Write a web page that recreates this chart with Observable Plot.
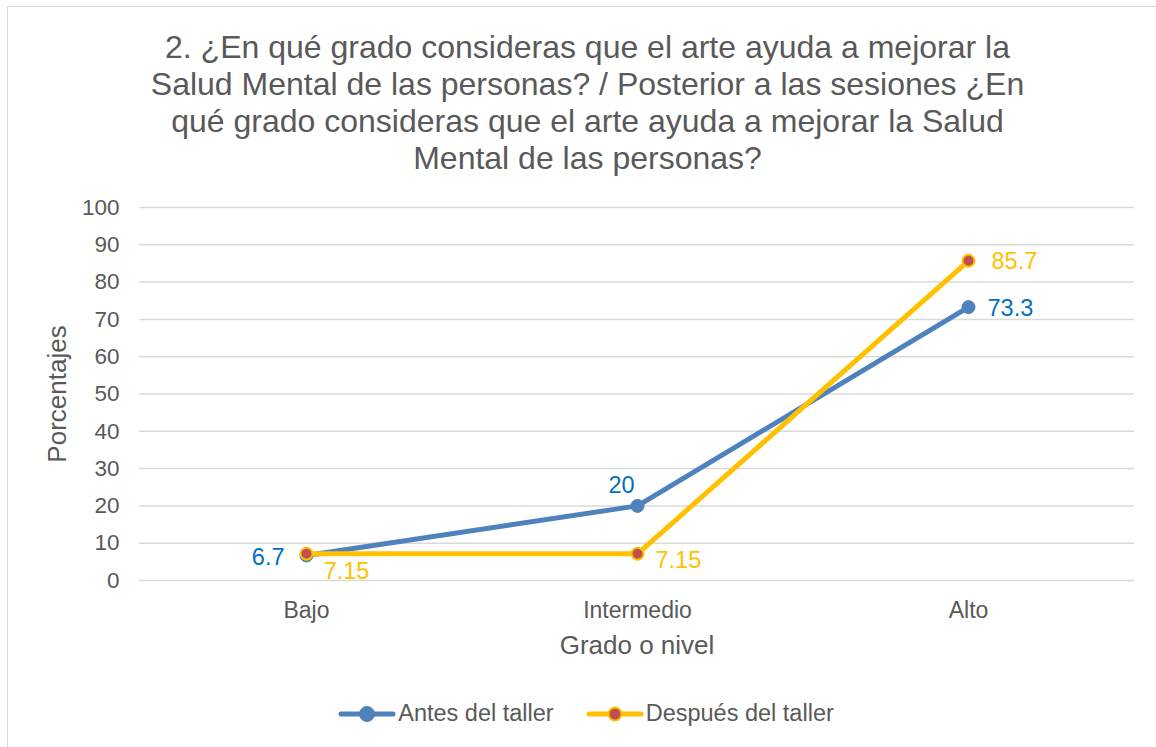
<!DOCTYPE html>
<html>
<head>
<meta charset="utf-8">
<script src="https://cdn.jsdelivr.net/npm/d3@7"></script>
<script src="https://cdn.jsdelivr.net/npm/@observablehq/plot@0.6"></script>
<style>
  html, body { margin: 0; padding: 0; background: #fff; }
  body { width: 1156px; height: 747px; overflow: hidden; position: relative; font-family: "Liberation Sans", Arial, sans-serif; }
  #frame { position: absolute; left: 7px; top: 6px; width: 1160px; height: 760px; border: 1px solid #d9d9d9; box-sizing: border-box; }
  #title { position: absolute; left: 0; top: 29px; width: 1175px; text-align: center; font-size: 32px; line-height: 37px; color: #595959; white-space: nowrap; }
  #chart { position: absolute; left: 0; top: 178px; }
  #legend { position: absolute; left: 0; top: 700px; width: 1172px; display: flex; justify-content: center; align-items: center; font-size: 23.5px; color: #595959; gap: 32px; }
  .item { display: flex; align-items: center; }
  .item svg { margin-right: 2px; }
</style>
</head>
<body>
<div id="frame"></div>
<div id="title">2. ¿En qué grado consideras que el arte ayuda a mejorar la<br>Salud Mental de las personas? / Posterior a las sesiones ¿En<br>qué grado consideras que el arte ayuda a mejorar la Salud<br>Mental de las personas?</div>
<div id="chart"></div>
<div id="legend"></div>
<script>
const categories = ["Bajo", "Intermedio", "Alto"];
const antes = [6.7, 20, 73.3];
const despues = [7.15, 7.15, 85.7];
const seriesNames = ["Antes del taller", "Después del taller"];
const yTicks = [0, 10, 20, 30, 40, 50, 60, 70, 80, 90, 100];

const blue = "#4f81bd";
const blueText = "#0070c0";
const yellow = "#ffc000";
const red = "#c0504d";

const dA = categories.map((c, i) => ({cat: c, v: antes[i]}));
const dD = categories.map((c, i) => ({cat: c, v: despues[i]}));

// label placements (style only)
const labA = [
  {dx: -22, dy: 2, anchor: "end"},
  {dx: -16, dy: -20, anchor: "middle"},
  {dx: 19, dy: 1, anchor: "start"}
];
const labD = [
  {dx: 40, dy: 18, anchor: "middle"},
  {dx: 18, dy: 7, anchor: "start"},
  {dx: 23, dy: 1, anchor: "start"}
];

const marks = [
  Plot.ruleY(yTicks, {stroke: "#d9d9d9", strokeWidth: 1.5}),
  Plot.axisY(yTicks, {tickSize: 0, tickPadding: 0, dx: -20, fontSize: 22.5, fill: "#595959", label: null}),
  Plot.axisX({tickSize: 0, tickPadding: 21, fontSize: 23, fill: "#595959", label: null}),
  Plot.text(["Porcentajes"], {frameAnchor: "left", textAnchor: "middle", dx: -82, rotate: -90, fontSize: 26, fill: "#595959"}),
  Plot.text(["Grado o nivel"], {frameAnchor: "bottom", dy: 73, fontSize: 26, fill: "#595959"}),
  Plot.line(dA, {x: "cat", y: "v", stroke: blue, strokeWidth: 5, strokeLinejoin: "round", strokeLinecap: "round"}),
  Plot.dot(dA, {x: "cat", y: "v", r: 6.5, fill: blue, stroke: blue, strokeWidth: 1}),
  Plot.line(dD, {x: "cat", y: "v", stroke: yellow, strokeWidth: 5, strokeLinejoin: "round", strokeLinecap: "round"}),
  Plot.dot(dD, {x: "cat", y: "v", r: 6, fill: red, stroke: yellow, strokeWidth: 2}),
];
dA.forEach((d, i) => {
  marks.push(Plot.text([d], {x: "cat", y: "v", text: dd => String(dd.v), dx: labA[i].dx, dy: labA[i].dy, textAnchor: labA[i].anchor, fontSize: 23.5, fill: blueText}));
});
dD.forEach((d, i) => {
  marks.push(Plot.text([d], {x: "cat", y: "v", text: dd => String(dd.v), dx: labD[i].dx, dy: labD[i].dy, textAnchor: labD[i].anchor, fontSize: 23.5, fill: yellow}));
});

const chart = Plot.plot({
  width: 1156,
  height: 490,
  marginLeft: 139,
  marginRight: 22,
  marginTop: 29,
  marginBottom: 88,
  style: {fontFamily: "'Liberation Sans', Arial, sans-serif", background: "transparent", overflow: "visible"},
  x: {type: "point", domain: categories, padding: 0.5, axis: null},
  y: {domain: [0, 100], axis: null},
  marks
});
document.getElementById("chart").appendChild(chart);

// legend
const legend = document.getElementById("legend");
const styles = [
  {line: blue, fill: blue, stroke: blue, sw: 1, r: 7.5},
  {line: yellow, fill: red, stroke: yellow, sw: 2, r: 6.5}
];
seriesNames.forEach((name, i) => {
  const s = styles[i];
  const item = document.createElement("div");
  item.className = "item";
  item.innerHTML = `<svg width="58" height="20"><line x1="3" y1="10" x2="55" y2="10" stroke="${s.line}" stroke-width="5" stroke-linecap="round"/><circle cx="29" cy="10" r="${s.r}" fill="${s.fill}" stroke="${s.stroke}" stroke-width="${s.sw}"/></svg><span>${name}</span>`;
  legend.appendChild(item);
});
</script>
</body>
</html>
